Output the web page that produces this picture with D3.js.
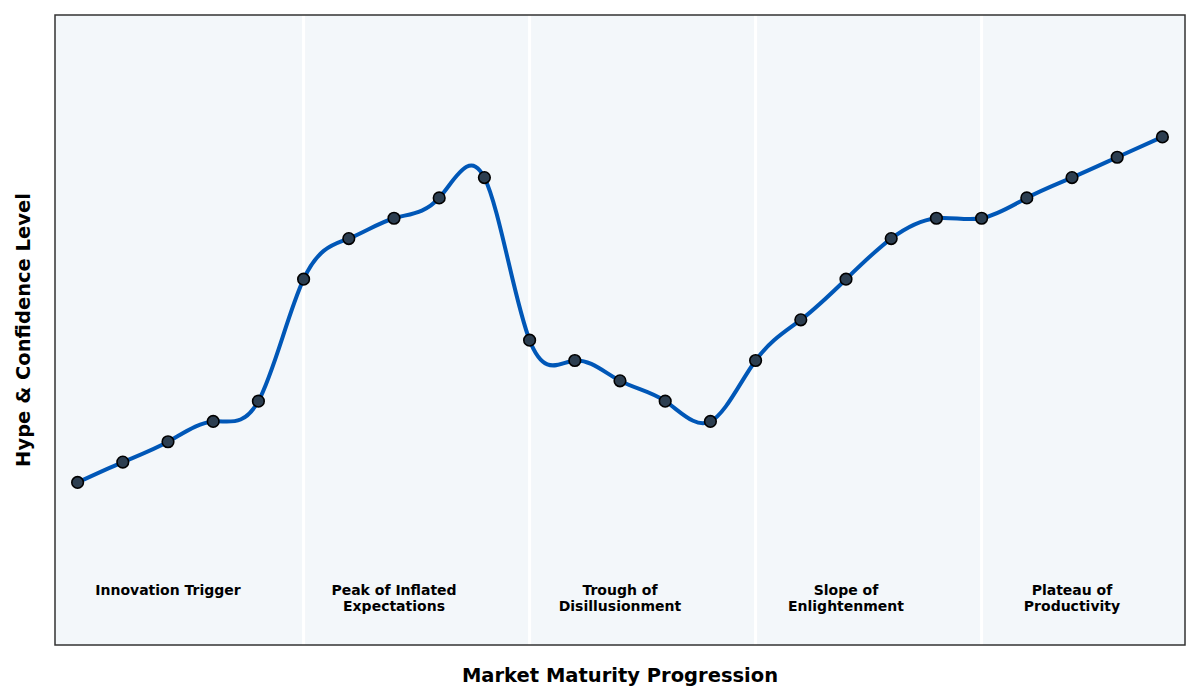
<!DOCTYPE html>
<html lang="en">
<head>
  <meta charset="UTF-8">
  <title>Hype Cycle</title>
  <script src="https://d3js.org/d3.v7.min.js"></script>
  <style>
    body { margin: 0; background: #fff; }
    svg { font-family: "DejaVu Sans", sans-serif; }
    .phase-label { font-size: 14px; font-weight: bold; text-anchor: middle; fill: #000; }
    .axis-title { font-size: 19.5px; font-weight: bold; text-anchor: middle; fill: #000; }
  </style>
</head>
<body>
  <svg id="chart"></svg>
  <script>
    // Data
    const steps = d3.range(25);
    const hype = [10, 15, 20, 25, 30, 60, 70, 75, 80, 85, 45, 40, 35, 30, 25,
                  40, 50, 60, 70, 75, 75, 80, 85, 90, 95];
    const phaseBounds = [5, 10, 15, 20];
    const phaseCenters = [2, 7, 12, 17, 22];
    const phaseNames = [
      ["Innovation Trigger"],
      ["Peak of Inflated", "Expectations"],
      ["Trough of", "Disillusionment"],
      ["Slope of", "Enlightenment"],
      ["Plateau of", "Productivity"]
    ];

    const W = 1200, H = 700;
    const margin = { top: 15, right: 15, bottom: 55, left: 55 };
    const width = W - margin.left - margin.right;
    const height = H - margin.top - margin.bottom;

    const svg = d3.select("#chart").attr("width", W).attr("height", H);
    const g = svg.append("g")
      .attr("transform", "translate(" + margin.left + "," + margin.top + ")");

    const x = d3.scaleLinear().domain([-0.5, 24.5]).range([0, width]);
    const y = d3.scaleLinear().domain([-30, 125]).range([height, 0]);

    // background
    g.append("rect")
      .attr("width", width).attr("height", height)
      .attr("fill", "#f3f7fa");

    // phase dividers
    g.selectAll(".divider")
      .data(phaseBounds)
      .enter().append("line")
      .attr("x1", d => x(d)).attr("x2", d => x(d))
      .attr("y1", 0).attr("y2", height)
      .attr("stroke", "#fff").attr("stroke-width", 3);

    // phase labels
    const labels = g.selectAll(".phase-label")
      .data(phaseCenters)
      .enter().append("text")
      .attr("class", "phase-label")
      .attr("x", d => x(d))
      .attr("y", y(-15.5) + 9);
    labels.each(function(d, i) {
      d3.select(this).selectAll("tspan")
        .data(phaseNames[i])
        .enter().append("tspan")
        .attr("x", x(d))
        .attr("dy", (t, j) => j === 0 ? 0 : "1.15em")
        .text(t => t);
    });

    // curve
    const line = d3.line()
      .x((d, i) => x(steps[i]))
      .y(d => y(d))
      .curve(d3.curveNatural);

    g.append("path")
      .datum(hype)
      .attr("d", line)
      .attr("fill", "none")
      .attr("stroke", "#0057b7")
      .attr("stroke-width", 4);

    g.selectAll(".dot")
      .data(hype)
      .enter().append("circle")
      .attr("cx", (d, i) => x(steps[i]))
      .attr("cy", d => y(d))
      .attr("r", 5.8)
      .attr("fill", "#2c3e50")
      .attr("stroke", "#000")
      .attr("stroke-width", 1.6);

    // frame
    g.append("rect")
      .attr("width", width).attr("height", height)
      .attr("fill", "none")
      .attr("stroke", "#333").attr("stroke-width", 1.5);

    // axis titles
    svg.append("text")
      .attr("class", "axis-title")
      .attr("x", margin.left + width / 2)
      .attr("y", 682)
      .text("Market Maturity Progression");

    svg.append("text")
      .attr("class", "axis-title")
      .attr("transform", "translate(30," + (margin.top + height / 2) + ") rotate(-90)")
      .text("Hype & Confidence Level");
  </script>
</body>
</html>
